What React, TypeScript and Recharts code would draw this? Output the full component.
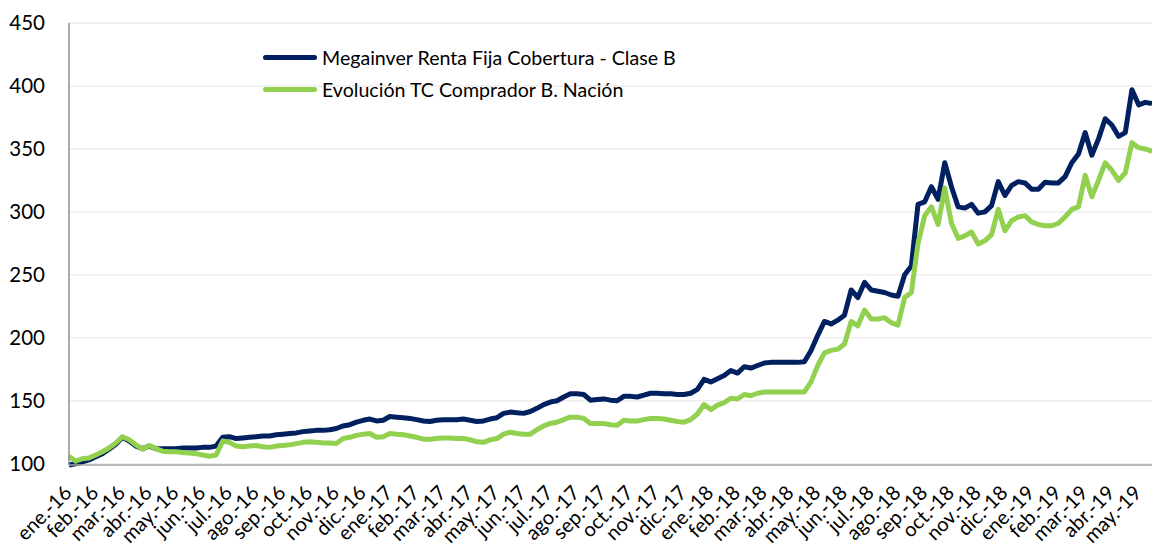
import { CartesianGrid, Line, LineChart, XAxis, YAxis } from 'recharts';

// weekly readings, ene-16 .. mid may-19 (4 points per month)
const MONTH_LABELS = [
  'ene.-16', 'feb.-16', 'mar.-16', 'abr.-16', 'may.-16', 'jun.-16', 'jul.-16', 'ago.-16', 'sep.-16', 'oct.-16', 'nov.-16', 'dic.-16',
  'ene.-17', 'feb.-17', 'mar.-17', 'abr.-17', 'may.-17', 'jun.-17', 'jul.-17', 'ago.-17', 'sep.-17', 'oct.-17', 'nov.-17', 'dic.-17',
  'ene.-18', 'feb.-18', 'mar.-18', 'abr.-18', 'may.-18', 'jun.-18', 'jul.-18', 'ago.-18', 'sep.-18', 'oct.-18', 'nov.-18', 'dic.-18',
  'ene.-19', 'feb.-19', 'mar.-19', 'abr.-19', 'may.-19',
];

const FUND = [
  99, 100, 101.5, 103, 105.5, 108, 111.5, 115.5, 121, 118,
  114, 112, 114, 112, 112, 112, 112, 112.5, 112.5, 112.5,
  113, 113, 114, 121, 121.5, 120, 120.5, 121, 121.5, 122,
  122, 123, 123.5, 124, 124.5, 125.5, 126, 126.5, 126.5, 127,
  128, 130, 131, 133, 134.5, 135.5, 134, 134.5, 137.5, 137,
  136.5, 136, 135, 134, 133.5, 134.5, 135, 135, 135, 135.5,
  134.5, 133.5, 134, 135.5, 136.5, 140, 141, 140.5, 140, 141.5,
  144, 147, 149, 150, 153, 155.5, 155.5, 155, 150.5, 151,
  151.5, 150.5, 150, 153.5, 153.5, 153, 154.5, 156, 156, 155.5,
  155.5, 155, 155, 156, 159, 167, 165, 167.5, 170, 174,
  172, 177, 176, 178, 180, 180.5, 180.5, 180.5, 180.5, 180.5,
  181, 190, 202, 213, 211, 214, 218, 238, 232, 244,
  238, 237, 236, 234, 233, 250, 257, 306, 308, 320,
  310, 339, 320, 304, 303, 306, 299, 300, 305, 324,
  313, 321, 324, 323, 318, 318, 323.5, 323, 323, 328,
  339, 346, 363, 345, 358, 374, 369, 360, 363, 397,
  385, 387, 386,
];

const TC = [
  106, 102, 104, 104.5, 107, 109.5, 112.5, 116.5, 121.5, 119,
  115, 111.5, 114.5, 112, 110, 109.5, 109.5, 109, 108.5, 108,
  107, 106, 107, 118, 117, 114, 113.5, 114, 114.5, 113.5,
  113, 114, 114.5, 115, 116, 117, 117.5, 117, 116.5, 116.5,
  116, 120, 121, 122.5, 123.5, 124, 121, 121.5, 124, 123.5,
  123, 122, 121, 119.5, 119.5, 120, 120.5, 120.5, 120, 120,
  119, 117.5, 117, 119, 120, 123.5, 125, 124, 123.5, 123.5,
  127, 130, 132, 133, 135, 137, 137, 136, 132, 132,
  132, 131, 130.5, 134.5, 134, 134, 135, 136, 136, 135.5,
  134.5, 133.5, 133, 135, 139.5, 147, 143, 146.5, 148.5, 152,
  151.5, 155, 154, 156, 157, 157, 157, 157, 157, 157,
  157, 165, 178, 188, 190, 191, 195, 213, 209.5, 222,
  215, 215, 216, 212, 210, 232, 236, 275, 297, 304,
  290, 319, 291, 279, 281, 284, 274.5, 277, 282, 302,
  285, 293, 296, 297, 292, 290, 289, 289, 291, 296,
  302, 304, 329, 312, 325, 339, 333, 325, 331, 355,
  351, 350, 348,
];

const Y_TICKS = [100, 150, 200, 250, 300, 350, 400, 450];

const SERIES = [
  { key: 'fund', name: 'Megainver Renta Fija Cobertura - Clase B', color: '#002060' },
  { key: 'tc', name: 'Evolución TC Comprador B. Nación', color: '#92D050' },
];

const data = FUND.map((v, i) => ({ idx: i, fund: v, tc: TC[i] }));
const monthTicks = MONTH_LABELS.map((_, k) => k * 4);

const FONT = 'Lato, "DejaVu Sans", sans-serif';

// eslint-disable-next-line @typescript-eslint/no-explicit-any
function MonthTick({ x, y, payload }: any) {
  const label = MONTH_LABELS[Math.round(payload.value / 4)] ?? '';
  const ax = x + 4;
  const ay = y + 29;
  return (
    <text
      x={ax}
      y={ay}
      textAnchor="end"
      fontSize={20}
      fontFamily={FONT}
      fill="#000"
      transform={`rotate(-45 ${ax} ${ay})`}
    >
      {label}
    </text>
  );
}

// legend drawn as an overlay so it takes no room from the plot
function LegendBox() {
  return (
    <div
      style={{
        position: 'absolute',
        left: 263,
        top: 41,
        fontFamily: FONT,
        fontSize: 19.6,
        color: '#000',
      }}
    >
      {SERIES.map((s) => (
        <div key={s.key} style={{ display: 'flex', alignItems: 'center', height: 32 }}>
          <span
            style={{
              display: 'inline-block',
              width: 54,
              height: 5,
              borderRadius: 3,
              background: s.color,
              marginRight: 5,
            }}
          />
          <span>{s.name}</span>
        </div>
      ))}
    </div>
  );
}

export default function App() {
  return (
    <div style={{ position: 'absolute', left: 0, top: 0, width: 1152, height: 549, background: '#fff' }}>
      <LineChart width={1152} height={549} data={data} margin={{ top: 23, right: 0, bottom: 0, left: 0 }}>
        <CartesianGrid vertical={false} stroke="#ededed" strokeWidth={1.5} />
        <XAxis
          dataKey="idx"
          type="number"
          domain={[0, FUND.length - 1]}
          ticks={monthTicks}
          interval={0}
          tick={<MonthTick />}
          tickLine={false}
          tickSize={0}
          tickMargin={0}
          height={84}
          axisLine={{ stroke: '#a6a6a6', strokeWidth: 1.5 }}
        />
        <YAxis
          domain={[100, 450]}
          ticks={Y_TICKS}
          interval={0}
          width={69}
          tickLine={false}
          tickSize={0}
          tickMargin={24}
          axisLine={{ stroke: '#8c8c8c', strokeWidth: 1.5 }}
          tick={{ fontSize: 20.5, fill: '#000', fontFamily: FONT }}
        />
        {/* blue first so the green sits on top where they overlap */}
        <Line
          type="linear"
          dataKey="fund"
          name={SERIES[0].name}
          stroke={SERIES[0].color}
          strokeWidth={5}
          strokeLinejoin="round"
          dot={false}
          isAnimationActive={false}
        />
        <Line
          type="linear"
          dataKey="tc"
          name={SERIES[1].name}
          stroke={SERIES[1].color}
          strokeWidth={5}
          strokeLinejoin="round"
          dot={false}
          isAnimationActive={false}
        />
      </LineChart>
      <LegendBox />
    </div>
  );
}
